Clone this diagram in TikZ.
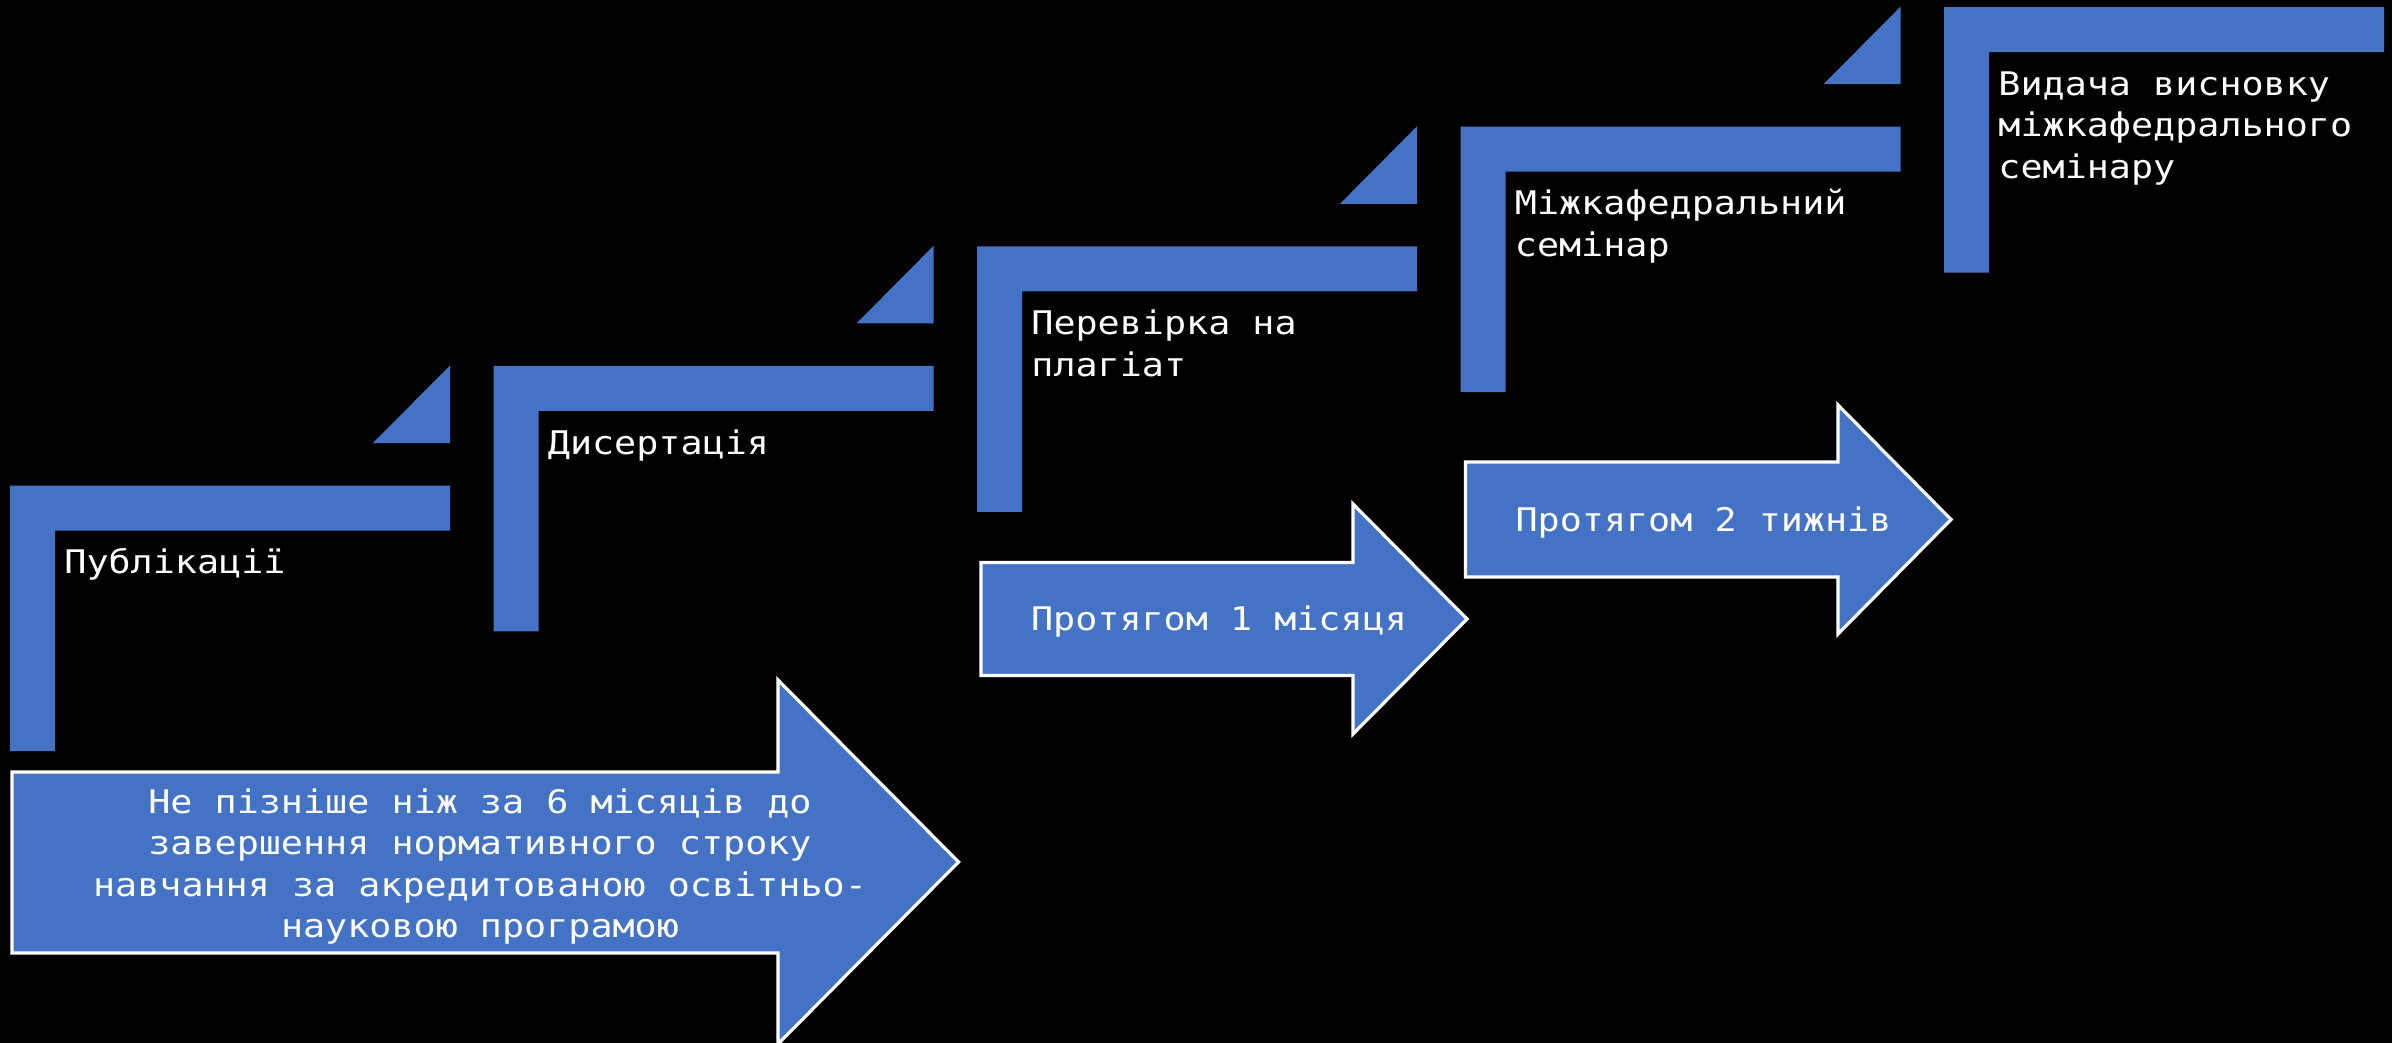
\documentclass[tikz,border=0pt]{standalone}
\usepackage{fontspec}
\usepackage{tikz}

\newfontfamily\stepfont[FakeStretch=1.13]{DejaVu Sans Mono}
\newcommand{\steptextfont}{\stepfont\fontsize{16.25pt}{20.75pt}\selectfont}
\definecolor{stepblue}{HTML}{4472C4}

\tikzset{
	stepbar/.style={fill=stepblue},
	steptext/.style={font=\steptextfont, text=white, align=left,
		anchor=north west, inner sep=0pt},
	arrowbody/.style={fill=stepblue, draw=white, line width=1.6pt, line join=miter},
	arrowtext/.style={font=\steptextfont, text=white, align=center,
		anchor=north, inner sep=0pt}
}

\begin{document}
\begin{tikzpicture}[x=0.5pt, y=-0.5pt]
			% background
			\useasboundingbox (0,0) rectangle (2392,1043);
			\fill[black] (0,0) rectangle (2392,1043);
			
			% Steps and small triangles
			\foreach \i in {0,...,4} {
				\pgfmathsetmacro\sx{10+483.5*\i}
				\pgfmathsetmacro\sy{485.5-119.6*\i}
				\coordinate (s\i) at (\sx,\sy);
				\fill[stepbar] (s\i) -- ++(440,0) -- ++(0,45) -- ++(-395,0)
					-- ++(0,220.5) -- ++(-45,0) -- cycle;
				\ifnum\i<4
					\fill[stepbar] ([shift={(363,-42.5)}]s\i) -- ([shift={(440,-42.5)}]s\i)
						-- ([shift={(440,-120)}]s\i) -- cycle;
				\fi
			}
			
			% Step labels
			\node[steptext] (pub) at ([shift={(54,57)}]s0) {\rule{0pt}{0.95em}Публікації};
			\node[steptext] (dys) at ([shift={(54,57)}]s1) {\rule{0pt}{0.95em}Дисертація};
			\node[steptext] (plag) at ([shift={(54,57)}]s2) {\rule{0pt}{0.95em}Перевірка на\\плагіат};
			\node[steptext] (sem) at ([shift={(54,57)}]s3) {\rule{0pt}{0.95em}Міжкафедральний\\семінар};
			\node[steptext] (vysn) at ([shift={(54,57)}]s4) {\rule{0pt}{0.95em}Видача висновку\\міжкафедрального\\семінару};
			
			% Arrows
			\draw[arrowbody] (12,772) -- (778,772) -- (778,680) -- (958.5,862)
				-- (778,1044) -- (778,953) -- (12,953) -- cycle;
			\draw[arrowbody] (981,562.5) -- (1353,562.5) -- (1353,504) -- (1467,619)
				-- (1353,734) -- (1353,675.5) -- (981,675.5) -- cycle;
			\draw[arrowbody] (1465.5,462) -- (1838,462) -- (1838,405) -- (1951,519.5)
				-- (1838,634) -- (1838,577) -- (1465.5,577) -- cycle;
			
			% Arrow labels
			\node[arrowtext] (term) at (480,782) {\rule{0pt}{0.95em}Не пізніше ніж за 6 місяців до\\завершення нормативного строку\\навчання за акредитованою освітньо-\\науковою програмою};
			\node[arrowtext] (month) at (1219,599) {\rule{0pt}{0.95em}Протягом 1 місяця};
			\node[arrowtext] (weeks) at (1703.5,500) {\rule{0pt}{0.95em}Протягом 2 тижнів};
		
		\end{tikzpicture}
\end{document}
